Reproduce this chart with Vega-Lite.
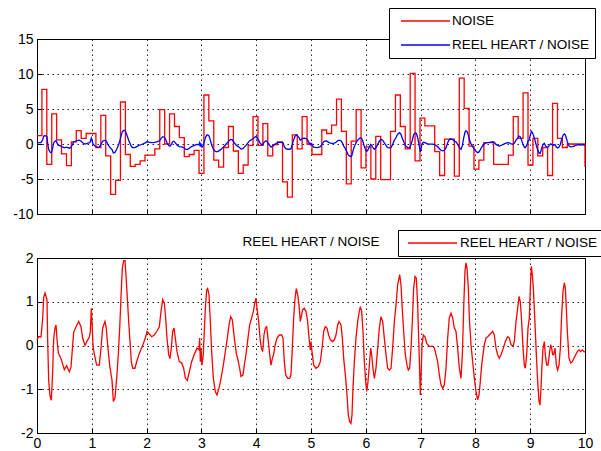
{
  "$schema": "https://vega.github.io/schema/vega-lite/v6.json",
  "padding": {"left": 12, "top": 7, "right": 0, "bottom": 0},
  "background": "white",
  "config": {
    "font": "Liberation Sans, Arial, sans-serif",
    "view": {"stroke": "black", "strokeWidth": 1},
    "axis": {
      "domainColor": "black", "domainWidth": 1,
      "tickColor": "black", "tickSize": -5, "tickWidth": 1,
      "labelColor": "black", "labelFontSize": 14, "labelPadding": 9,
      "labelFlush": false, "labelOverlap": false,
      "gridColor": "black", "gridDash": [1.5, 3.5], "gridOpacity": 0.85, "gridWidth": 1,
      "title": null
    },
    "axisX": {"labelPadding": 8},
    "legend": {
      "symbolType": "stroke", "symbolSize": 2401, "clipHeight": 16,
      "symbolStrokeWidth": 1.3, "labelFontSize": 13.5, "labelColor": "black",
      "padding": 5, "rowPadding": 8, "strokeColor": "black", "fillColor": "white",
      "labelLimit": 400, "title": null
    }
  },
  "datasets": {
    "noise": [
      {"x": 0, "v": 1.2}, {"x": 0.09, "v": 7.8}, {"x": 0.179, "v": -2.9}, {"x": 0.269, "v": 4.3},
      {"x": 0.358, "v": 0.6}, {"x": 0.448, "v": -1.4}, {"x": 0.538, "v": -3.1}, {"x": 0.627, "v": 0.3},
      {"x": 0.717, "v": 1.9}, {"x": 0.806, "v": 0.8}, {"x": 0.896, "v": 1.5}, {"x": 0.986, "v": 1.5},
      {"x": 1.075, "v": -0.5}, {"x": 1.165, "v": 4.1}, {"x": 1.254, "v": -1.7}, {"x": 1.344, "v": -7.2},
      {"x": 1.434, "v": -5.2}, {"x": 1.523, "v": 6.0}, {"x": 1.613, "v": -1.5}, {"x": 1.702, "v": -3.2},
      {"x": 1.792, "v": -2.9}, {"x": 1.882, "v": -2.4}, {"x": 1.971, "v": -1.6}, {"x": 2.061, "v": -1.6},
      {"x": 2.15, "v": -0.7}, {"x": 2.24, "v": 4.9}, {"x": 2.33, "v": 0.0}, {"x": 2.419, "v": 4.3},
      {"x": 2.509, "v": 2.5}, {"x": 2.598, "v": 0.9}, {"x": 2.688, "v": -1.8}, {"x": 2.778, "v": -1.5},
      {"x": 2.867, "v": -0.9}, {"x": 2.957, "v": -4.2}, {"x": 3.046, "v": 7.0}, {"x": 3.136, "v": 3.3},
      {"x": 3.226, "v": -2.3}, {"x": 3.315, "v": -3.3}, {"x": 3.405, "v": -0.5}, {"x": 3.494, "v": 2.5},
      {"x": 3.584, "v": -1.0}, {"x": 3.674, "v": -4.2}, {"x": 3.763, "v": -3.0}, {"x": 3.853, "v": -0.2},
      {"x": 3.942, "v": 3.9}, {"x": 4.032, "v": -0.2}, {"x": 4.122, "v": 2.9}, {"x": 4.211, "v": -1.7},
      {"x": 4.301, "v": -0.1}, {"x": 4.39, "v": 0.3}, {"x": 4.48, "v": -5.4}, {"x": 4.57, "v": -7.6},
      {"x": 4.659, "v": 1.3}, {"x": 4.749, "v": -0.7}, {"x": 4.838, "v": 3.9}, {"x": 4.928, "v": 0.0},
      {"x": 5.018, "v": -1.5}, {"x": 5.107, "v": -1.5}, {"x": 5.197, "v": 2.0}, {"x": 5.286, "v": 1.5},
      {"x": 5.376, "v": 2.7}, {"x": 5.466, "v": 6.4}, {"x": 5.555, "v": 1.8}, {"x": 5.645, "v": -5.7},
      {"x": 5.734, "v": 0.4}, {"x": 5.824, "v": 4.9}, {"x": 5.914, "v": -3.4}, {"x": 6.003, "v": -0.4},
      {"x": 6.093, "v": -5.0}, {"x": 6.182, "v": 1.1}, {"x": 6.272, "v": -5.1}, {"x": 6.362, "v": -5.1},
      {"x": 6.451, "v": 1.8}, {"x": 6.541, "v": 7.0}, {"x": 6.63, "v": 2.5}, {"x": 6.72, "v": -0.7},
      {"x": 6.81, "v": 10.1}, {"x": 6.899, "v": -2.4}, {"x": 6.989, "v": 3.7}, {"x": 7.078, "v": 2.6},
      {"x": 7.168, "v": 2.6}, {"x": 7.258, "v": -1.1}, {"x": 7.347, "v": -4.5}, {"x": 7.437, "v": 0.7},
      {"x": 7.526, "v": 0.7}, {"x": 7.616, "v": -4.6}, {"x": 7.706, "v": 9.4}, {"x": 7.795, "v": 5.1},
      {"x": 7.885, "v": -0.3}, {"x": 7.974, "v": -3.6}, {"x": 8.064, "v": -2.3}, {"x": 8.154, "v": 0.2},
      {"x": 8.243, "v": 0.2}, {"x": 8.333, "v": -2.9}, {"x": 8.422, "v": -2.9}, {"x": 8.512, "v": -2.9},
      {"x": 8.602, "v": -1.6}, {"x": 8.691, "v": 3.9}, {"x": 8.781, "v": 0.8}, {"x": 8.87, "v": 7.3},
      {"x": 8.96, "v": -3.0}, {"x": 9.05, "v": 0.8}, {"x": 9.139, "v": -1.7}, {"x": 9.229, "v": -0.5},
      {"x": 9.318, "v": -4.5}, {"x": 9.408, "v": 5.8}, {"x": 9.498, "v": 0.8}, {"x": 9.587, "v": -0.5},
      {"x": 9.677, "v": 0.0}, {"x": 9.766, "v": 0.0}, {"x": 9.856, "v": 0.0}, {"x": 9.946, "v": 0.0},
      {"x": 10, "v": -3.3}
    ],
    "heart": [
      {"x": 0.0, "v": 0.13}, {"x": 0.03, "v": 0.2}, {"x": 0.073, "v": 0.2}, {"x": 0.103, "v": 0.6},
      {"x": 0.122, "v": 1.1}, {"x": 0.146, "v": 1.2}, {"x": 0.17, "v": 1.1}, {"x": 0.182, "v": 1.05},
      {"x": 0.195, "v": 0.1}, {"x": 0.213, "v": -0.8}, {"x": 0.237, "v": -1.15}, {"x": 0.262, "v": -1.25},
      {"x": 0.286, "v": -0.6}, {"x": 0.304, "v": 0.15}, {"x": 0.328, "v": 0.4}, {"x": 0.347, "v": 0.47},
      {"x": 0.365, "v": 0.15}, {"x": 0.389, "v": -0.17}, {"x": 0.438, "v": -0.3}, {"x": 0.499, "v": -0.55},
      {"x": 0.541, "v": -0.46}, {"x": 0.59, "v": -0.6}, {"x": 0.62, "v": -0.5}, {"x": 0.669, "v": 0.3},
      {"x": 0.712, "v": 0.43}, {"x": 0.76, "v": 0.55}, {"x": 0.803, "v": 0.43}, {"x": 0.833, "v": 0.17},
      {"x": 0.876, "v": 0.0}, {"x": 0.912, "v": 0.1}, {"x": 0.949, "v": 0.17}, {"x": 0.973, "v": 0.3},
      {"x": 0.991, "v": 0.85}, {"x": 1.004, "v": 0.55}, {"x": 1.022, "v": 0.0}, {"x": 1.046, "v": -0.2},
      {"x": 1.089, "v": -0.45}, {"x": 1.137, "v": -0.45}, {"x": 1.168, "v": -0.06}, {"x": 1.198, "v": 0.4},
      {"x": 1.241, "v": 0.55}, {"x": 1.265, "v": 0.4}, {"x": 1.29, "v": 0.0}, {"x": 1.326, "v": -0.45},
      {"x": 1.369, "v": -0.8}, {"x": 1.393, "v": -1.28}, {"x": 1.423, "v": -1.2}, {"x": 1.454, "v": -0.75},
      {"x": 1.484, "v": -0.2}, {"x": 1.509, "v": 0.4}, {"x": 1.533, "v": 1.1}, {"x": 1.557, "v": 1.77},
      {"x": 1.582, "v": 1.94}, {"x": 1.606, "v": 1.94}, {"x": 1.624, "v": 1.6}, {"x": 1.648, "v": 1.1},
      {"x": 1.673, "v": 0.55}, {"x": 1.697, "v": 0.1}, {"x": 1.721, "v": -0.37}, {"x": 1.746, "v": -0.52},
      {"x": 1.788, "v": -0.52}, {"x": 1.819, "v": -0.37}, {"x": 1.867, "v": -0.18}, {"x": 1.928, "v": 0.0},
      {"x": 1.977, "v": 0.17}, {"x": 2.007, "v": 0.32}, {"x": 2.038, "v": 0.28}, {"x": 2.092, "v": 0.2},
      {"x": 2.141, "v": 0.24}, {"x": 2.184, "v": 0.32}, {"x": 2.232, "v": 0.43}, {"x": 2.263, "v": 0.78},
      {"x": 2.293, "v": 1.05}, {"x": 2.324, "v": 0.97}, {"x": 2.348, "v": 0.63}, {"x": 2.372, "v": 0.17},
      {"x": 2.403, "v": -0.21}, {"x": 2.427, "v": -0.3}, {"x": 2.451, "v": -0.06}, {"x": 2.476, "v": 0.32},
      {"x": 2.5, "v": 0.4}, {"x": 2.524, "v": 0.17}, {"x": 2.555, "v": -0.14}, {"x": 2.597, "v": -0.37},
      {"x": 2.64, "v": -0.4}, {"x": 2.676, "v": -0.52}, {"x": 2.707, "v": -0.75}, {"x": 2.743, "v": -0.8},
      {"x": 2.78, "v": -0.6}, {"x": 2.822, "v": -0.37}, {"x": 2.871, "v": -0.2}, {"x": 2.92, "v": -0.06},
      {"x": 2.956, "v": -0.1}, {"x": 2.968, "v": 0.17}, {"x": 2.981, "v": -0.37}, {"x": 2.993, "v": -0.06},
      {"x": 3.011, "v": -0.45}, {"x": 3.035, "v": -0.2}, {"x": 3.047, "v": 0.17}, {"x": 3.072, "v": 0.85},
      {"x": 3.096, "v": 1.27}, {"x": 3.114, "v": 1.3}, {"x": 3.139, "v": 1.16}, {"x": 3.163, "v": 0.55},
      {"x": 3.187, "v": -0.14}, {"x": 3.218, "v": -0.75}, {"x": 3.254, "v": -1.05}, {"x": 3.285, "v": -1.13},
      {"x": 3.321, "v": -0.98}, {"x": 3.358, "v": -0.75}, {"x": 3.4, "v": -0.45}, {"x": 3.437, "v": -0.14},
      {"x": 3.473, "v": 0.17}, {"x": 3.504, "v": 0.47}, {"x": 3.534, "v": 0.66}, {"x": 3.564, "v": 0.59},
      {"x": 3.601, "v": 0.17}, {"x": 3.637, "v": -0.18}, {"x": 3.674, "v": -0.37}, {"x": 3.698, "v": -0.52},
      {"x": 3.723, "v": -0.71}, {"x": 3.759, "v": -0.67}, {"x": 3.783, "v": -0.45}, {"x": 3.814, "v": -0.2},
      {"x": 3.85, "v": 0.17}, {"x": 3.881, "v": 0.47}, {"x": 3.917, "v": 0.63}, {"x": 3.948, "v": 0.78},
      {"x": 3.978, "v": 1.0}, {"x": 3.996, "v": 1.08}, {"x": 4.015, "v": 0.85}, {"x": 4.045, "v": 0.55},
      {"x": 4.069, "v": 0.17}, {"x": 4.094, "v": -0.06}, {"x": 4.118, "v": -0.14}, {"x": 4.142, "v": 0.24},
      {"x": 4.167, "v": 0.4}, {"x": 4.191, "v": 0.43}, {"x": 4.215, "v": 0.17}, {"x": 4.246, "v": -0.21},
      {"x": 4.27, "v": -0.45}, {"x": 4.294, "v": -0.3}, {"x": 4.319, "v": -0.2}, {"x": 4.343, "v": 0.0},
      {"x": 4.38, "v": 0.17}, {"x": 4.422, "v": 0.24}, {"x": 4.465, "v": 0.24}, {"x": 4.489, "v": 0.17},
      {"x": 4.513, "v": -0.37}, {"x": 4.538, "v": -0.67}, {"x": 4.574, "v": -0.75}, {"x": 4.611, "v": -0.75},
      {"x": 4.635, "v": -0.67}, {"x": 4.659, "v": -0.06}, {"x": 4.684, "v": 0.63}, {"x": 4.708, "v": 1.08},
      {"x": 4.732, "v": 1.3}, {"x": 4.757, "v": 1.16}, {"x": 4.781, "v": 0.93}, {"x": 4.805, "v": 0.55},
      {"x": 4.848, "v": 0.82}, {"x": 4.878, "v": 0.85}, {"x": 4.909, "v": 0.78}, {"x": 4.939, "v": 0.55},
      {"x": 4.97, "v": 0.1}, {"x": 4.988, "v": -0.1}, {"x": 5.0, "v": 0.09}, {"x": 5.018, "v": -0.14},
      {"x": 5.049, "v": -0.45}, {"x": 5.091, "v": -0.52}, {"x": 5.134, "v": -0.48}, {"x": 5.17, "v": -0.37},
      {"x": 5.207, "v": 0.0}, {"x": 5.231, "v": 0.32}, {"x": 5.261, "v": 0.43}, {"x": 5.292, "v": 0.4},
      {"x": 5.322, "v": 0.24}, {"x": 5.353, "v": 0.13}, {"x": 5.395, "v": 0.09}, {"x": 5.426, "v": 0.13},
      {"x": 5.456, "v": 0.24}, {"x": 5.487, "v": 0.47}, {"x": 5.511, "v": 0.55}, {"x": 5.547, "v": 0.47},
      {"x": 5.572, "v": 0.17}, {"x": 5.596, "v": -0.29}, {"x": 5.627, "v": -0.67}, {"x": 5.657, "v": -1.13},
      {"x": 5.681, "v": -1.59}, {"x": 5.706, "v": -1.74}, {"x": 5.73, "v": -1.78}, {"x": 5.748, "v": -1.59},
      {"x": 5.766, "v": -0.98}, {"x": 5.791, "v": -0.37}, {"x": 5.821, "v": 0.17}, {"x": 5.852, "v": 0.55},
      {"x": 5.882, "v": 0.78}, {"x": 5.9, "v": 0.89}, {"x": 5.925, "v": 0.78}, {"x": 5.949, "v": 0.32},
      {"x": 5.973, "v": -0.37}, {"x": 5.998, "v": -0.82}, {"x": 6.016, "v": -1.05}, {"x": 6.034, "v": -0.9},
      {"x": 6.065, "v": -0.45}, {"x": 6.089, "v": -0.06}, {"x": 6.107, "v": -0.21}, {"x": 6.131, "v": -0.52},
      {"x": 6.156, "v": -0.75}, {"x": 6.186, "v": -0.52}, {"x": 6.217, "v": -0.06}, {"x": 6.247, "v": 0.4},
      {"x": 6.277, "v": 0.66}, {"x": 6.308, "v": 0.55}, {"x": 6.338, "v": 0.17}, {"x": 6.369, "v": -0.21},
      {"x": 6.399, "v": -0.52}, {"x": 6.43, "v": -0.56}, {"x": 6.46, "v": -0.52}, {"x": 6.49, "v": -0.06},
      {"x": 6.521, "v": 0.55}, {"x": 6.551, "v": 0.93}, {"x": 6.582, "v": 1.39}, {"x": 6.618, "v": 1.62},
      {"x": 6.642, "v": 1.39}, {"x": 6.661, "v": 0.93}, {"x": 6.691, "v": 0.32}, {"x": 6.721, "v": -0.21},
      {"x": 6.752, "v": -0.45}, {"x": 6.776, "v": -0.56}, {"x": 6.8, "v": -0.52}, {"x": 6.825, "v": -0.06},
      {"x": 6.849, "v": 0.55}, {"x": 6.873, "v": 1.31}, {"x": 6.898, "v": 1.58}, {"x": 6.922, "v": 1.54},
      {"x": 6.946, "v": 0.93}, {"x": 6.965, "v": 0.17}, {"x": 6.983, "v": -0.6}, {"x": 6.995, "v": -1.13},
      {"x": 7.007, "v": -0.75}, {"x": 7.026, "v": 0.02}, {"x": 7.05, "v": 0.24}, {"x": 7.08, "v": 0.2},
      {"x": 7.111, "v": 0.05}, {"x": 7.159, "v": -0.02}, {"x": 7.22, "v": -0.02}, {"x": 7.251, "v": -0.06},
      {"x": 7.281, "v": -0.21}, {"x": 7.311, "v": -0.37}, {"x": 7.342, "v": -0.67}, {"x": 7.372, "v": -0.9},
      {"x": 7.403, "v": -0.98}, {"x": 7.433, "v": -0.9}, {"x": 7.464, "v": -0.52}, {"x": 7.494, "v": 0.17},
      {"x": 7.524, "v": 0.63}, {"x": 7.555, "v": 0.74}, {"x": 7.585, "v": 0.63}, {"x": 7.616, "v": 0.4},
      {"x": 7.646, "v": 0.32}, {"x": 7.676, "v": -0.06}, {"x": 7.707, "v": -0.52}, {"x": 7.737, "v": -0.75},
      {"x": 7.762, "v": -0.21}, {"x": 7.786, "v": 0.85}, {"x": 7.81, "v": 1.7}, {"x": 7.828, "v": 1.89},
      {"x": 7.847, "v": 1.77}, {"x": 7.871, "v": 1.31}, {"x": 7.889, "v": 0.63}, {"x": 7.92, "v": 0.02},
      {"x": 7.95, "v": -0.37}, {"x": 7.981, "v": -0.75}, {"x": 8.011, "v": -1.05}, {"x": 8.041, "v": -1.24},
      {"x": 8.066, "v": -1.13}, {"x": 8.09, "v": -0.82}, {"x": 8.114, "v": -0.45}, {"x": 8.139, "v": -0.21},
      {"x": 8.163, "v": 0.02}, {"x": 8.193, "v": 0.17}, {"x": 8.224, "v": 0.2}, {"x": 8.254, "v": 0.24},
      {"x": 8.285, "v": 0.28}, {"x": 8.315, "v": 0.32}, {"x": 8.345, "v": 0.24}, {"x": 8.376, "v": -0.06},
      {"x": 8.406, "v": -0.21}, {"x": 8.436, "v": -0.29}, {"x": 8.467, "v": -0.21}, {"x": 8.51, "v": -0.06},
      {"x": 8.546, "v": 0.09}, {"x": 8.589, "v": 0.2}, {"x": 8.619, "v": 0.17}, {"x": 8.65, "v": 0.02},
      {"x": 8.686, "v": -0.02}, {"x": 8.71, "v": 0.09}, {"x": 8.741, "v": 0.55}, {"x": 8.771, "v": 0.85},
      {"x": 8.796, "v": 1.12}, {"x": 8.82, "v": 1.0}, {"x": 8.844, "v": 0.55}, {"x": 8.869, "v": -0.06},
      {"x": 8.893, "v": -0.45}, {"x": 8.911, "v": -0.52}, {"x": 8.936, "v": -0.21}, {"x": 8.96, "v": 0.4},
      {"x": 8.984, "v": 0.63}, {"x": 9.002, "v": 1.31}, {"x": 9.021, "v": 1.81}, {"x": 9.039, "v": 1.62},
      {"x": 9.057, "v": 1.31}, {"x": 9.075, "v": 0.85}, {"x": 9.094, "v": 0.32}, {"x": 9.112, "v": -0.21},
      {"x": 9.136, "v": -0.82}, {"x": 9.161, "v": -1.28}, {"x": 9.179, "v": -1.36}, {"x": 9.197, "v": -0.98},
      {"x": 9.215, "v": -0.45}, {"x": 9.234, "v": -0.06}, {"x": 9.258, "v": 0.09}, {"x": 9.276, "v": -0.21},
      {"x": 9.301, "v": -0.45}, {"x": 9.325, "v": -0.45}, {"x": 9.349, "v": -0.21}, {"x": 9.373, "v": 0.02},
      {"x": 9.392, "v": -0.06}, {"x": 9.41, "v": -0.21}, {"x": 9.428, "v": -0.21}, {"x": 9.453, "v": -0.06},
      {"x": 9.477, "v": -0.45}, {"x": 9.501, "v": -0.56}, {"x": 9.526, "v": -0.45}, {"x": 9.55, "v": -0.06},
      {"x": 9.574, "v": 0.7}, {"x": 9.599, "v": 1.24}, {"x": 9.623, "v": 1.43}, {"x": 9.641, "v": 1.31},
      {"x": 9.659, "v": 0.85}, {"x": 9.678, "v": 0.32}, {"x": 9.708, "v": -0.29}, {"x": 9.739, "v": -0.4},
      {"x": 9.769, "v": -0.37}, {"x": 9.799, "v": -0.29}, {"x": 9.83, "v": -0.21}, {"x": 9.86, "v": -0.14},
      {"x": 9.891, "v": -0.1}, {"x": 9.921, "v": -0.14}, {"x": 9.951, "v": -0.1}, {"x": 9.982, "v": -0.14},
      {"x": 10.0, "v": -0.15}
    ]
  },
  "spacing": 44,
  "bounds": "flush",
  "resolve": {"scale": {"color": "independent"}, "legend": {"color": "independent"}},
  "vconcat": [
    {
      "width": 548,
      "height": 175,
      "encoding": {
        "x": {"field": "x", "type": "quantitative", "scale": {"domain": [0, 10], "nice": false},
              "axis": {"values": [0, 1, 2, 3, 4, 5, 6, 7, 8, 9, 10], "labels": false, "grid": true}},
        "y": {"field": "v", "type": "quantitative", "scale": {"domain": [-10, 15], "nice": false},
              "axis": {"values": [-10, -5, 0, 5, 10, 15], "grid": true,
                       "labelExpr": "datum.value < 0 ? '-' + abs(datum.value) : '' + datum.value"}}
      },
      "layer": [
        {
          "data": {"name": "noise"},
          "mark": {"type": "line", "interpolate": "step-after", "strokeWidth": 1.3},
          "encoding": {
            "color": {"datum": "NOISE", "type": "nominal",
                      "scale": {"domain": ["NOISE", "REEL HEART / NOISE"], "range": ["#ff0000", "#0000ff"]},
                      "legend": {"orient": "none", "legendX": 352, "legendY": -31, "symbolOffset": 6, "labelOffset": 1}}
          }
        },
        {
          "data": {"name": "heart"},
          "mark": {"type": "line", "strokeWidth": 1.3},
          "encoding": {
            "color": {"datum": "REEL HEART / NOISE", "type": "nominal"}
          }
        }
      ]
    },
    {
      "width": 548,
      "height": 175,
      "title": {"text": "REEL HEART / NOISE", "anchor": "middle", "offset": -19,
                "fontSize": 13.5, "fontWeight": "normal", "color": "black"},
      "data": {"name": "heart"},
      "mark": {"type": "line", "strokeWidth": 1.3},
      "encoding": {
        "x": {"field": "x", "type": "quantitative", "scale": {"domain": [0, 10], "nice": false},
              "axis": {"values": [0, 1, 2, 3, 4, 5, 6, 7, 8, 9, 10], "grid": true}},
        "y": {"field": "v", "type": "quantitative", "scale": {"domain": [-2, 2], "nice": false},
              "axis": {"values": [-2, -1, 0, 1, 2], "grid": true,
                       "labelExpr": "datum.value < 0 ? '-' + abs(datum.value) : '' + datum.value"}},
        "color": {"datum": "REEL HEART / NOISE", "type": "nominal",
                  "scale": {"domain": ["REEL HEART / NOISE"], "range": ["#ff0000"]},
                  "legend": {"orient": "none", "legendX": 361, "legendY": -28, "symbolOffset": 4, "labelOffset": 2}}
      }
    }
  ]
}
